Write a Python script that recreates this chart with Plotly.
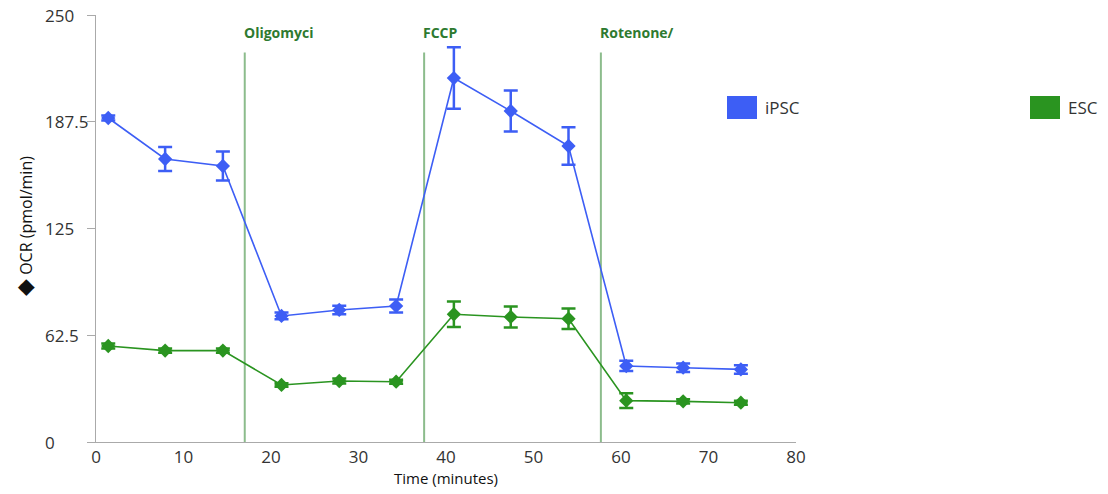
import plotly.graph_objects as go

time_min = [1.4, 7.9, 14.5, 21.2, 27.8, 34.3, 40.9, 47.4, 54.0, 60.6, 67.1, 73.7]
ipsc_ocr = [189.7, 165.7, 161.6, 73.8, 77.3, 79.6, 213.1, 193.8, 173.3, 44.5, 43.5, 42.5]
ipsc_err = [1.5, 7.0, 8.5, 2.0, 2.5, 3.8, 18.0, 12.0, 11.0, 3.0, 2.5, 2.5]
esc_ocr = [56.2, 53.5, 53.5, 33.4, 35.7, 35.3, 74.8, 73.2, 72.2, 24.2, 23.8, 23.0]
esc_err = [1.5, 1.2, 1.2, 1.0, 1.5, 1.2, 7.4, 6.1, 6.0, 4.3, 1.2, 1.2]
inj_times = [17.0, 37.5, 57.7]
inj_labels = ["Oligomyci", "FCCP", "Rotenone/"]
y_ticks = [0, 62.5, 125, 187.5, 250]
y_ticktext = ["0", "62.5", "125", "187.5", "250"]
x_ticks = [0, 10, 20, 30, 40, 50, 60, 70, 80]

BLUE = "#3d5ef5"
GREEN = "#2a9420"
FONT = "Open Sans"

fig = go.Figure()
for name, vals, errs, col in [("iPSC", ipsc_ocr, ipsc_err, BLUE), ("ESC", esc_ocr, esc_err, GREEN)]:
    fig.add_trace(go.Scatter(
        x=time_min, y=vals, name=name, mode="lines+markers",
        line=dict(color=col, width=1.6),
        marker=dict(symbol="diamond", size=11, color=col),
        error_y=dict(type="data", array=errs, visible=True, color=col, thickness=2.5, width=7),
        showlegend=False,
    ))

shapes = []
annotations = []
for t, lab in zip(inj_times, inj_labels):
    shapes.append(dict(type="line", xref="x", yref="y", x0=t, x1=t, y0=0, y1=228,
                       line=dict(color="#8cbc8c", width=2), layer="below"))
    annotations.append(dict(x=t, y=240, xref="x", yref="y", text="<b>" + lab + "</b>",
                            showarrow=False, xanchor="left", yanchor="middle", xshift=-3,
                            font=dict(family=FONT, size=14, color="#2e7a30")))

# y tick labels (left-aligned like the reference)
for v, txt in zip(y_ticks, y_ticktext):
    annotations.append(dict(x=(43 - 96) / 700, y=v, xref="paper", yref="y", text=txt,
                            showarrow=False, xanchor="left", yanchor="middle",
                            font=dict(family=FONT, size=17, color="#333333")))

# y axis title
annotations.append(dict(x=(23 - 96) / 700, y=(442 - 226) / 427, xref="paper", yref="paper",
                        text="<span style='font-size:22px'>◆</span> OCR (pmol/min)", textangle=-90,
                        showarrow=False, xanchor="center", yanchor="middle",
                        font=dict(family=FONT, size=16, color="#111111")))

# legend swatches
for x0, col, lab in [(727, BLUE, "iPSC"), (1030, GREEN, "ESC")]:
    shapes.append(dict(type="rect", xref="paper", yref="paper",
                       x0=(x0 - 96) / 700, x1=(x0 + 30 - 96) / 700,
                       y0=(442 - 119) / 427, y1=(442 - 96) / 427,
                       fillcolor=col, line=dict(width=0)))
    annotations.append(dict(x=(x0 + 36 - 96) / 700, y=(442 - 107) / 427, xref="paper", yref="paper",
                            text=lab, showarrow=False, xanchor="left", yanchor="middle",
                            font=dict(family=FONT, size=17, color="#333333")))

fig.update_layout(
    width=1108, height=494,
    margin=dict(l=96, r=312, t=15, b=52),
    paper_bgcolor="white", plot_bgcolor="white",
    shapes=shapes, annotations=annotations,
    font=dict(family=FONT, size=14, color="#222222"),
    xaxis=dict(range=[0, 80], tickvals=x_ticks, showgrid=False, zeroline=False, automargin=False,
               showline=True, linecolor="#aaaaaa", linewidth=1, ticks="",
               tickfont=dict(size=17, color="#333333"),
               title=dict(text="Time (minutes)", font=dict(size=15, color="#111111"), standoff=4)),
    yaxis=dict(range=[0, 250], tickvals=y_ticks, showticklabels=False,
               showgrid=False, zeroline=False, showline=True, linecolor="#aaaaaa", linewidth=1,
               automargin=False,
               ticks="outside", ticklen=8, tickcolor="#aaaaaa"),
)

fig.write_html("out.html", config={"displayModeBar": False},
               post_script="document.body.style.margin='0';document.body.style.overflow='hidden';")
